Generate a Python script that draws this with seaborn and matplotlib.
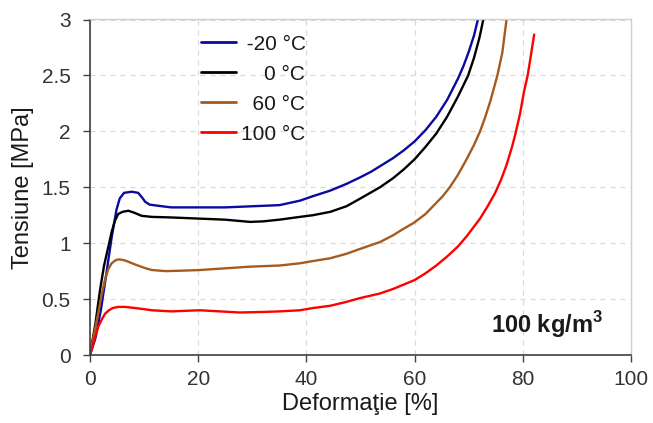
import matplotlib
matplotlib.use("Agg")
import matplotlib.pyplot as plt
import seaborn as sns
import pandas as pd

# ---- data ----
labels = ["-20 °C", "0 °C", "60 °C", "100 °C"]

x_m20 = [0, 1.0, 2.0, 3.0, 4.0, 4.9, 5.5, 6.3, 7.7, 8.9, 9.6, 10.2, 11.0, 12.5, 15, 20, 25, 30,
         35, 38.8, 41.2, 44.4, 47.4, 50, 52, 54, 56, 58, 60, 62, 64, 66, 68, 69, 70, 71, 71.7]
y_m20 = [0, 0.15, 0.40, 0.72, 1.05, 1.30, 1.40, 1.45, 1.46, 1.45, 1.41, 1.37, 1.345, 1.335,
         1.32, 1.32, 1.32, 1.33, 1.34, 1.38, 1.42, 1.47, 1.53, 1.59, 1.64, 1.70, 1.76, 1.83,
         1.91, 2.01, 2.13, 2.28, 2.47, 2.58, 2.71, 2.86, 3.0]

x_0 = [0, 1.0, 1.85, 2.6, 3.4, 4.0, 4.6, 5.2, 6.0, 7.1, 8.3, 9.5, 11.4, 15, 20, 25, 29.6, 32,
       35, 38.8, 41.2, 44.4, 47.4, 50, 53.6, 56, 58, 60, 62, 64, 66, 68, 69.9, 71, 72, 72.7]
y_0 = [0, 0.28, 0.58, 0.80, 0.97, 1.10, 1.20, 1.26, 1.28, 1.29, 1.27, 1.245, 1.235, 1.23,
       1.22, 1.21, 1.19, 1.195, 1.21, 1.235, 1.25, 1.28, 1.33, 1.40, 1.50, 1.58, 1.66, 1.75,
       1.86, 1.98, 2.13, 2.31, 2.5, 2.66, 2.84, 3.0]

x_60 = [0, 0.8, 1.5, 2.2, 2.8, 3.4, 4.0, 4.8, 5.5, 6.5, 8.3, 10, 11.4, 14, 17.6, 20.3, 25,
        29.6, 35, 38.8, 41.2, 44.4, 47.4, 50, 53.6, 56, 58, 59.8, 62, 64, 65.2, 66.5, 68,
        69.5, 71, 72.1, 73, 74, 75.3, 76.2, 77.0]
y_60 = [0, 0.20, 0.37, 0.55, 0.68, 0.77, 0.82, 0.85, 0.855, 0.845, 0.81, 0.78, 0.76, 0.75,
        0.755, 0.76, 0.775, 0.79, 0.80, 0.82, 0.84, 0.865, 0.905, 0.95, 1.01, 1.07, 1.13,
        1.18, 1.26, 1.36, 1.42, 1.50, 1.61, 1.74, 1.88, 2.0, 2.12, 2.27, 2.5, 2.7, 3.0]

x_100 = [0, 0.7, 1.5, 2.2, 2.8, 3.5, 4.2, 5.2, 6.5, 8.3, 10, 11.4, 15, 20.3, 24, 27.6, 32,
         35.1, 38.8, 41.2, 44.4, 47.4, 50, 53.6, 56, 58, 60, 62, 64, 66, 68, 69.6, 71, 72.1,
         73.5, 74.9, 76, 77, 78, 78.6, 79.5, 80.2, 80.9, 81.5, 82.1]
y_100 = [0, 0.12, 0.25, 0.32, 0.37, 0.40, 0.42, 0.43, 0.43, 0.42, 0.41, 0.40, 0.39, 0.40,
         0.39, 0.38, 0.385, 0.39, 0.40, 0.42, 0.44, 0.475, 0.51, 0.55, 0.59, 0.63, 0.67, 0.73,
         0.80, 0.88, 0.97, 1.06, 1.15, 1.22, 1.33, 1.45, 1.57, 1.70, 1.86, 1.97, 2.16, 2.35,
         2.5, 2.68, 2.865]

x_ticks = [0, 20, 40, 60, 80, 100]
y_ticks = [0, 0.5, 1, 1.5, 2, 2.5, 3]
y_ticklabels = ["0", "0.5", "1", "1.5", "2", "2.5", "3"]

series = [(x_m20, y_m20), (x_0, y_0), (x_60, y_60), (x_100, y_100)]
colors = ["#0A0AA0", "#000000", "#A55A1E", "#FF0000"]
# leading spaces emulate the right-aligned legend texts
legend_labels = [" -20 °C", "    0 °C", "  60 °C", "100 °C"]

frames = []
for lab, (xs, ys) in zip(labels, series):
    frames.append(pd.DataFrame({"x": xs, "y": ys, "T": lab}))
df = pd.concat(frames, ignore_index=True)

sns.set_style("white")
plt.rcParams["font.family"] = ["Liberation Sans", "DejaVu Sans"]
plt.rcParams["mathtext.fontset"] = "custom"
plt.rcParams["mathtext.rm"] = "Liberation Sans"
plt.rcParams["mathtext.bf"] = "Liberation Sans:bold"

fig = plt.figure(figsize=(6.53, 4.23), dpi=100)
ax = fig.add_axes([90 / 653, 68 / 423, 541 / 653, 335.5 / 423])

for lab, leg, col in zip(labels, legend_labels, colors):
    sub = df[df["T"] == lab]
    sns.lineplot(data=sub, x="x", y="y", ax=ax, color=col, linewidth=1.7,
                 sort=False, estimator=None, label=leg)
for ln in ax.get_lines():
    ln.set_solid_joinstyle("round")
    ln.set_solid_capstyle("round")

ax.set_xlim(0, 100)
ax.set_ylim(0, 3)
ax.set_xticks(x_ticks)
ax.set_yticks(y_ticks)
ax.set_yticklabels(y_ticklabels)

ax.grid(True, color="#D9D9D9", linestyle=(0, (4, 4)), linewidth=0.9)
ax.set_axisbelow(True)

for s in ["left", "bottom"]:
    ax.spines[s].set_color("#404040")
    ax.spines[s].set_linewidth(1.2)
for s in ["top", "right"]:
    ax.spines[s].set_color("#D0D0D0")
    ax.spines[s].set_linewidth(1.0)

ax.tick_params(axis="both", which="both", direction="out", length=5, width=1.0,
               color="#404040", labelsize=15, labelcolor="#333333")
ax.tick_params(axis="x", bottom=True, top=False, pad=6)
ax.tick_params(axis="y", left=True, right=False, pad=9)

ax.set_xlabel("Deformaţie [%]", fontsize=17, color="#1a1a1a", labelpad=3)
ax.set_ylabel("Tensiune [MPa]", fontsize=17, color="#1a1a1a", labelpad=5)

ax.text(94.8, 0.197, r"100 kg/m$^{\mathbf{3}}$", fontsize=17, fontweight="bold", ha="right",
        va="baseline", color="#1a1a1a")

leg = ax.legend(loc="upper left", bbox_to_anchor=(0.189, 0.98), frameon=False,
                fontsize=15, handlelength=1.7, handletextpad=0.25, labelspacing=0.53,
                borderaxespad=0.0)
for t in leg.get_texts():
    t.set_color("#1a1a1a")
for h in leg.get_lines():
    h.set_linewidth(2.0)

fig.savefig("out.png", dpi=100)
